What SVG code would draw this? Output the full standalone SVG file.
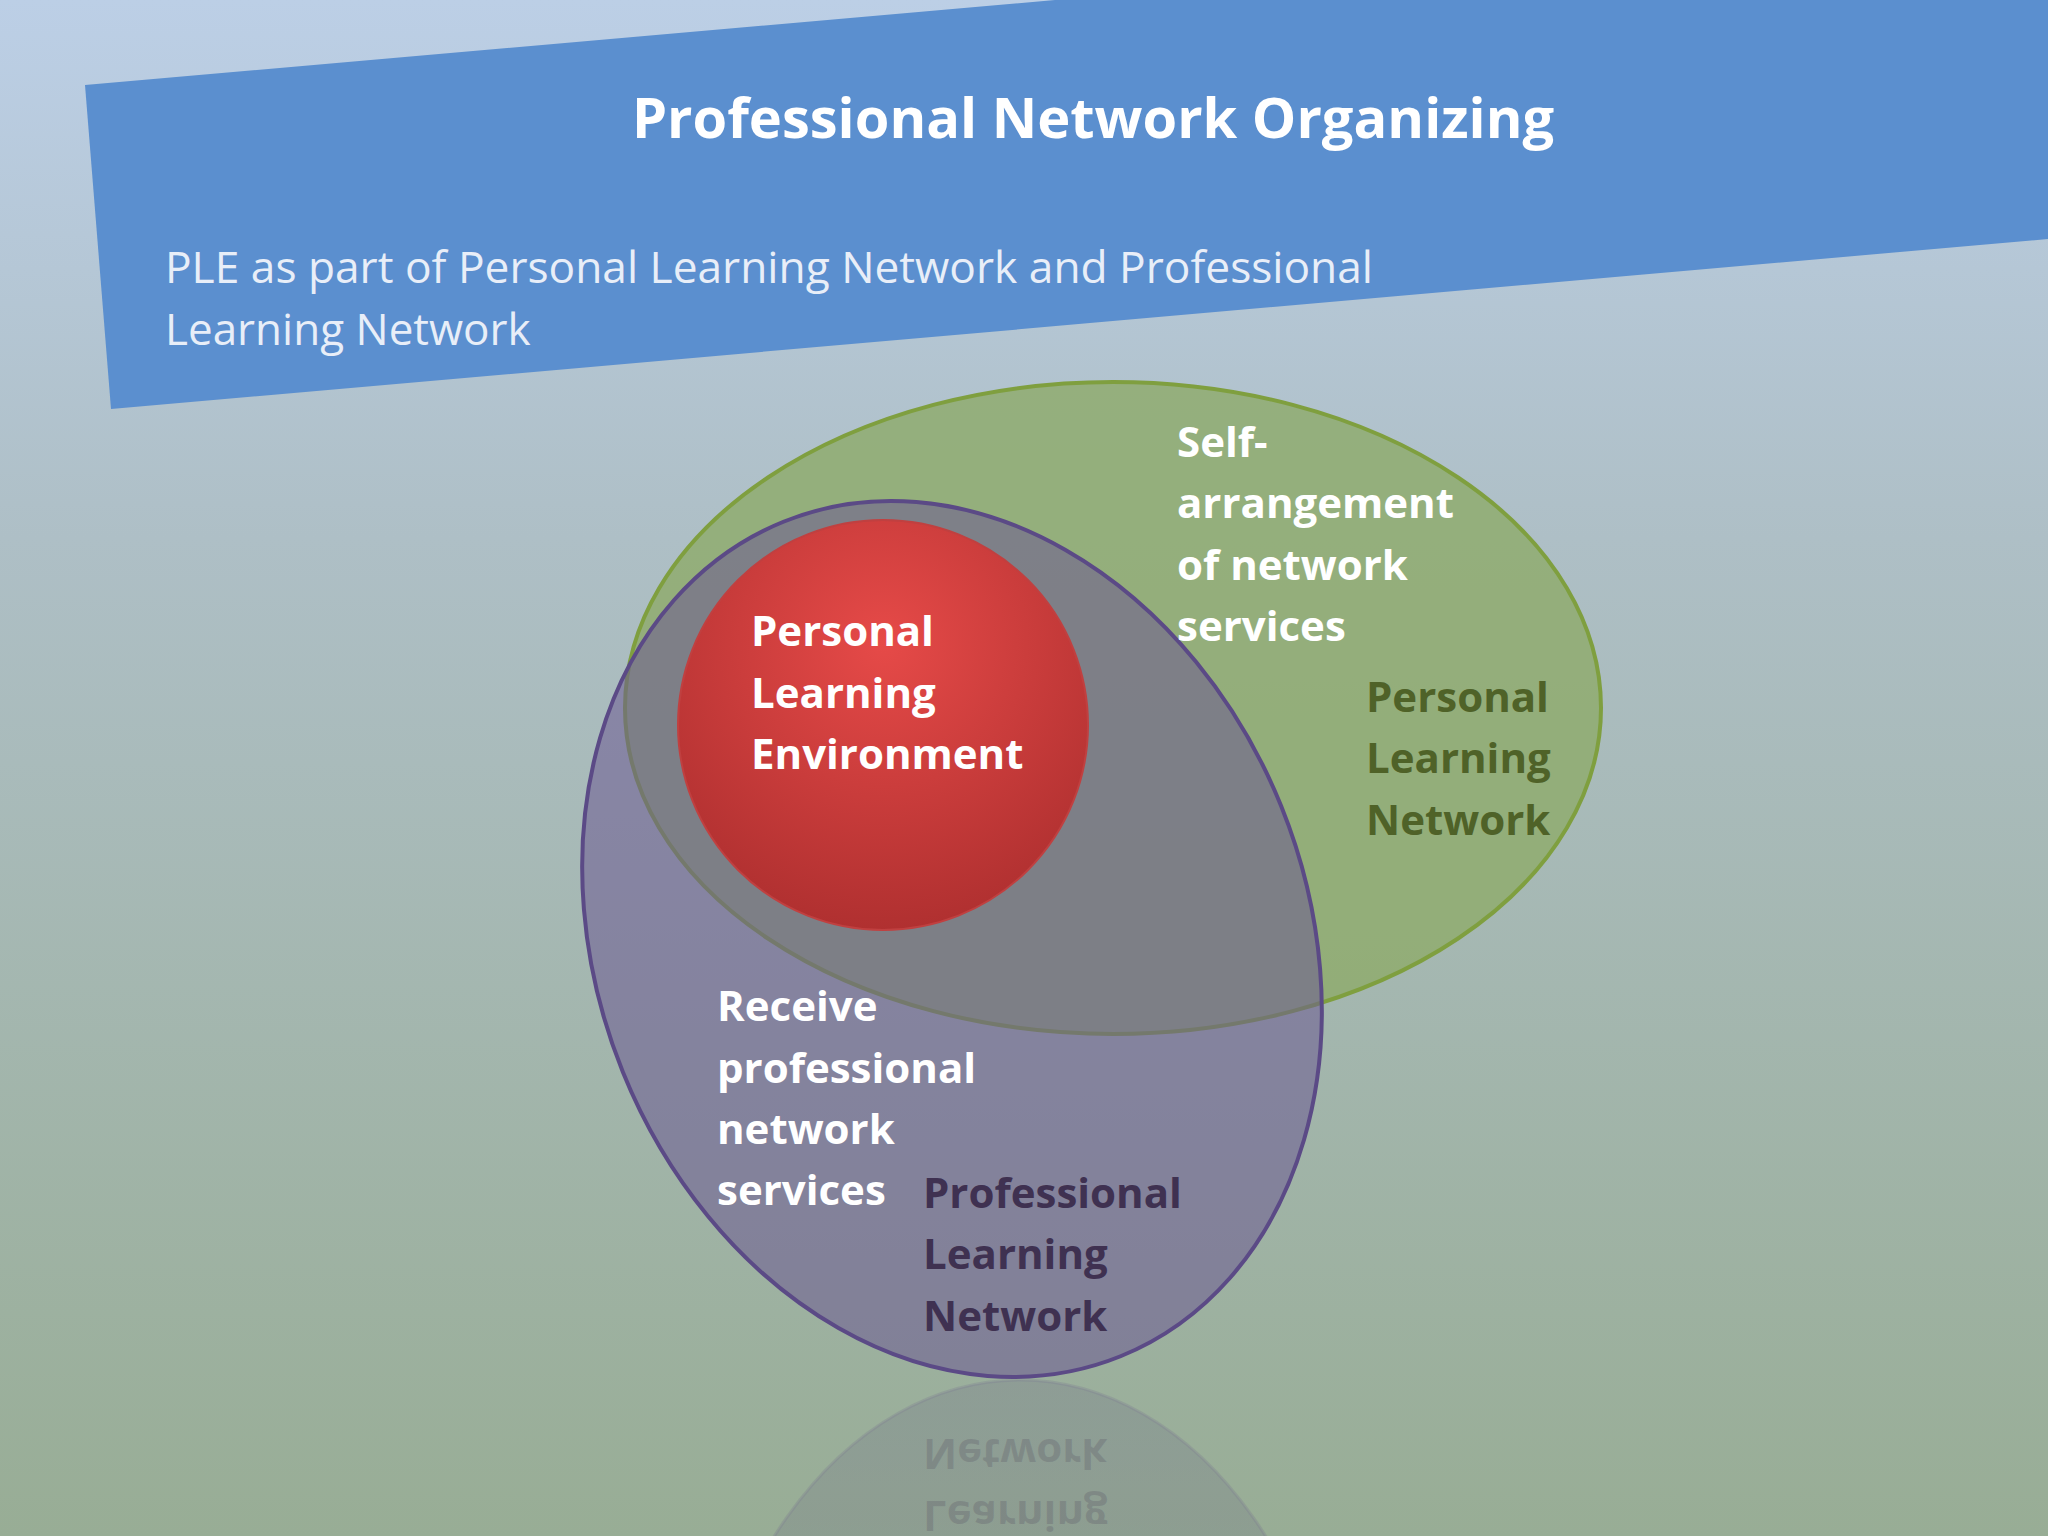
<svg xmlns="http://www.w3.org/2000/svg" width="2048" height="1536" viewBox="0 0 2048 1536">
<defs>
<linearGradient id="bg" x1="0" y1="0" x2="0" y2="1"><stop offset="0" stop-color="#bccfe6"/><stop offset="0.35" stop-color="#aebfc6"/><stop offset="1" stop-color="#98ad95"/></linearGradient>
<radialGradient id="red" cx="0.5" cy="0.3" r="0.7"><stop offset="0" stop-color="#e64a48"/><stop offset="1" stop-color="#b03030"/></radialGradient>
<linearGradient id="fade" x1="0" y1="0" x2="0" y2="1"><stop offset="0" stop-color="#5f5a80" stop-opacity="0.35"/><stop offset="1" stop-color="#5f5a80" stop-opacity="0"/></linearGradient>
<style>
.w{font-family:"Open Sans","Liberation Sans",sans-serif;font-weight:bold;font-size:42px;fill:#fff}
.g{font-family:"Open Sans","Liberation Sans",sans-serif;font-weight:bold;font-size:42px;fill:#4f6228}
.p{font-family:"Open Sans","Liberation Sans",sans-serif;font-weight:bold;font-size:42px;fill:#3f3151}
</style>
</defs>
<rect width="2048" height="1536" fill="url(#bg)"/>
<g id="banner">
<polygon points="85,85 1055,0 2048,0 2048,239 111,409" fill="#5b8fcf"/>
<text x="1093" y="138" text-anchor="middle" font-family="Open Sans,Liberation Sans,sans-serif" font-weight="bold" font-size="56" fill="#fff">Professional Network Organizing</text>
<text x="165" y="283" font-family="Open Sans,Liberation Sans,sans-serif" font-size="44" textLength="1208" lengthAdjust="spacingAndGlyphs" fill="#e8eef8">PLE as part of Personal Learning Network and Professional</text>
<text x="165" y="345" font-family="Open Sans,Liberation Sans,sans-serif" font-size="44" fill="#e8eef8">Learning Network</text>
</g>
<g id="reflection" opacity="0.6">
<ellipse cx="1020" cy="1850" rx="330" ry="470" fill="url(#fade)" stroke="#6a5a8c" stroke-opacity="0.3" stroke-width="3"/>
<g transform="translate(0,2770) scale(1,-1)">
<text class="p" x="923" y="1269" fill-opacity="0.35">Learning</text>
<text class="p" x="923" y="1331" fill-opacity="0.35">Network</text>
</g>
</g>
<g id="pln">
<ellipse cx="1113" cy="708" rx="488" ry="326" fill="#8fac6e" fill-opacity="0.85" stroke="#7f9f3f" stroke-width="4"/>
</g>
<g id="profln">
<ellipse cx="952" cy="939" rx="355" ry="450" transform="rotate(-22 952 939)" fill="#6b5a92" fill-opacity="0.55" stroke="#5b4a86" stroke-width="4"/>
</g>
<g id="ple">
<circle cx="883" cy="725" r="205" fill="url(#red)" stroke="#c04040" stroke-width="2"/>
<text class="w" x="751" y="646">Personal</text>
<text class="w" x="751" y="708">Learning</text>
<text class="w" x="751" y="769">Environment</text>
</g>
<g id="labels">
<text class="w" x="1177" y="457">Self-</text>
<text class="w" x="1177" y="518">arrangement</text>
<text class="w" x="1177" y="580">of network</text>
<text class="w" x="1177" y="641">services</text>
<text class="g" x="1366" y="712">Personal</text>
<text class="g" x="1366" y="773">Learning</text>
<text class="g" x="1366" y="835">Network</text>
<text class="w" x="717" y="1021">Receive</text>
<text class="w" x="717" y="1083">professional</text>
<text class="w" x="717" y="1144">network</text>
<text class="w" x="717" y="1205">services</text>
<text class="p" x="923" y="1208">Professional</text>
<text class="p" x="923" y="1269">Learning</text>
<text class="p" x="923" y="1331">Network</text>
</g>
<g id="connectors"/>
</svg>
